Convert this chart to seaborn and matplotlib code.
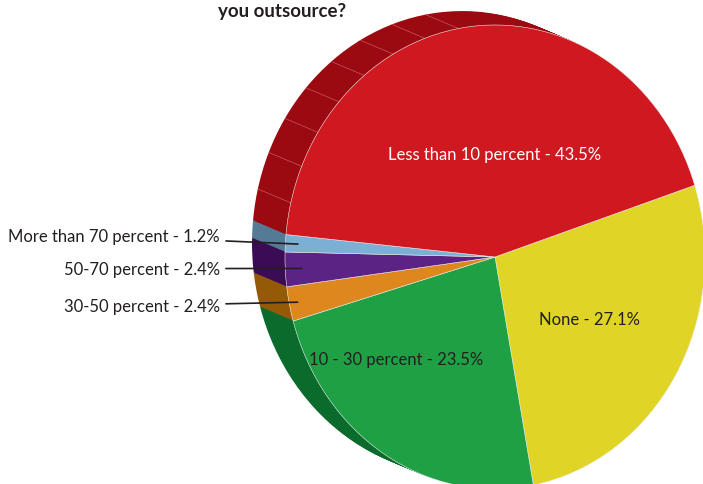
import numpy as np
import seaborn as sns
import matplotlib.pyplot as plt

# data (clockwise from the right)
labels = ['None', '10 - 30 percent', '30-50 percent', '50-70 percent',
          'More than 70 percent', 'Less than 10 percent']
values = [27.1, 23.5, 2.4, 2.4, 1.2, 43.5]
top_colors = ['#E0D526', '#1FA045', '#DE871F', '#5B2384', '#7BAFD4', '#D01820']
side_colors = ['#A89E10', '#0A6B2C', '#955A08', '#3B0B55', '#557A95', '#9B0A10']

sns.set_theme(style='white')
plt.rcParams['font.family'] = ['Lato', 'DejaVu Sans']

fig = plt.figure(figsize=(7.03, 4.85), dpi=100)
ax = fig.add_axes([0, 0, 1, 1])

start = 18
off = np.array([-0.157, 0.06])
# extruded side: stack of darker copies shifted up-left
steps = 24
for i in range(steps, 0, -1):
    f = i / steps
    ax.pie(values, colors=side_colors, startangle=start, counterclock=False,
           center=tuple(off * f), radius=1,
           wedgeprops=dict(linewidth=0, edgecolor='none'))

# faint facet lines on the red side
for a in np.arange(100, 172, 9.5):
    t = np.deg2rad(a)
    p = np.array([np.cos(t), np.sin(t)])
    q = p + off
    ax.plot([p[0], q[0]], [p[1], q[1]], color='#c8585c', lw=0.5, zorder=1.5)

wedges, _ = ax.pie(values, colors=top_colors, startangle=start, counterclock=False,
                   center=(0, 0), radius=1,
                   wedgeprops=dict(linewidth=0.4, edgecolor='#f0f0f0', zorder=2))

# pixel-like framing: 210 px per unit horizontally, 232 px vertically
ax.set_aspect('auto')
ax.set_xlim(-495 / 210, 208 / 210)
ax.set_ylim(-227 / 232, 258 / 232)
ax.axis('off')

def mid(w, r):
    a = np.deg2rad((w.theta1 + w.theta2) / 2)
    return r * np.cos(a), r * np.sin(a)

dark = '#231F20'
# inside labels
inside = {0: ((0.452, -0.267), dark), 1: ((-0.471, -0.44), dark),
          5: ((0.0, 0.444), 'white')}
for i, (pos, c) in inside.items():
    ax.text(pos[0], pos[1], f'{labels[i]} - {values[i]}%', color=c, fontsize=12,
            ha='center', va='center', zorder=5)

# outside labels with leader lines
outside = {4: (0.94, 0.09), 3: (0.92, -0.05), 2: (0.96, -0.21)}
for i, (r, ty) in outside.items():
    x, y = mid(wedges[i], r)
    ax.annotate(f'{labels[i]} - {values[i]}%', xy=(x, y), xytext=(-1.31, ty),
                fontsize=12, color=dark, ha='right', va='center', zorder=5,
                arrowprops=dict(arrowstyle='-', color=dark, lw=1.2,
                                shrinkA=2, shrinkB=0))

fig.text(0.401, 0.977, 'you outsource?', fontsize=13.5, fontweight='bold',
         color=dark, ha='center', va='center')

fig.savefig('out.png', dpi=100)
